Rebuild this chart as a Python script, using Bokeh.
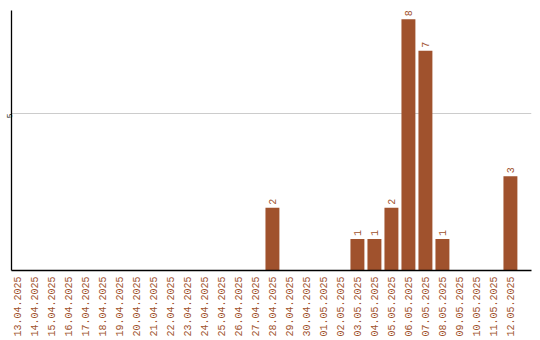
from math import pi
from bokeh.plotting import figure
from bokeh.models import ColumnDataSource, Range1d, FixedTicker
from bokeh.core.properties import value
from bokeh.embed import file_html
from bokeh.resources import INLINE

dates = ["13.04.2025", "14.04.2025", "15.04.2025", "16.04.2025", "17.04.2025",
         "18.04.2025", "19.04.2025", "20.04.2025", "21.04.2025", "22.04.2025",
         "23.04.2025", "24.04.2025", "25.04.2025", "26.04.2025", "27.04.2025",
         "28.04.2025", "29.04.2025", "30.04.2025", "01.05.2025", "02.05.2025",
         "03.05.2025", "04.05.2025", "05.05.2025", "06.05.2025", "07.05.2025",
         "08.05.2025", "09.05.2025", "10.05.2025", "11.05.2025", "12.05.2025"]
counts = [0, 0, 0, 0, 0, 0, 0, 0, 0, 0,
          0, 0, 0, 0, 0, 2, 0, 0, 0, 0,
          1, 1, 2, 8, 7, 1, 0, 0, 0, 3]
y_ticks = [5]

BROWN = "#a0522d"
FONT = "Liberation Mono"

xs = list(range(len(dates)))
src = ColumnDataSource(dict(x=xs, y=counts))
lab_x = [x for x, c in zip(xs, counts) if c > 0]
lab_y = [c for c in counts if c > 0]
lab_t = [str(c) for c in lab_y]
lab_src = ColumnDataSource(dict(x=lab_x, y=lab_y, t=lab_t))

p = figure(width=540, height=340, output_backend="svg", toolbar_location=None,
           x_range=Range1d(-0.35, 30.24), y_range=Range1d(0, 8.28),
           min_border_left=11, min_border_right=9, min_border_top=10,
           min_border_bottom=70)
p.outline_line_color = None
p.background_fill_color = "white"
p.border_fill_color = "white"

p.vbar(x="x", top="y", width=0.82, source=src, fill_color=BROWN, line_color=None)
p.text(x="x", y="y", text="t", source=lab_src, angle=pi / 2, y_offset=-3,
       text_align="left", text_baseline="middle", text_color=BROWN,
       text_font=value(FONT), text_font_size="10px")

p.xgrid.grid_line_color = None
p.ygrid.grid_line_color = "#cccccc"
p.ygrid.ticker = FixedTicker(ticks=y_ticks)

xa = p.xaxis[0]
xa.ticker = FixedTicker(ticks=xs)
xa.major_label_overrides = {i: d for i, d in enumerate(dates)}
xa.major_label_orientation = pi / 2
xa.major_label_text_color = BROWN
xa.major_label_text_font = FONT
xa.major_label_text_font_size = "10px"
xa.major_tick_in = 0
xa.major_tick_out = 0
xa.minor_tick_line_color = None
xa.major_label_standoff = 6
xa.axis_line_color = "black"
xa.axis_line_width = 1.3

ya = p.yaxis[0]
ya.ticker = FixedTicker(ticks=y_ticks)
ya.major_label_orientation = pi / 2
ya.major_label_text_color = "black"
ya.major_label_text_font = FONT
ya.major_label_text_font_size = "8px"
ya.major_tick_in = 0
ya.major_tick_out = 0
ya.minor_tick_line_color = None
ya.major_label_standoff = 2
ya.axis_line_color = "black"
ya.axis_line_width = 1.3

open("out.html", "w").write(file_html(p, INLINE))
